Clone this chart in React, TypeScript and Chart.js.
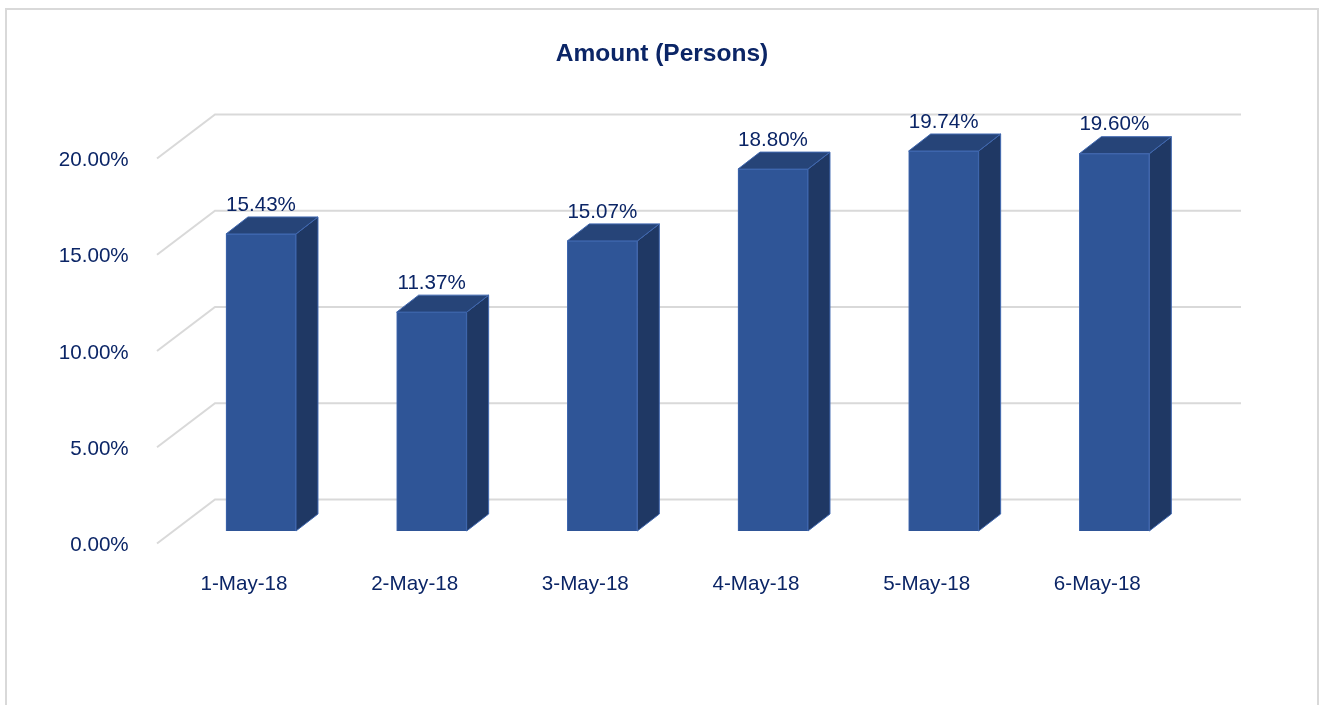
import React, { useEffect, useRef } from "react";
import { Chart, registerables } from "chart.js";

Chart.register(...registerables);

const categories = ["1-May-18", "2-May-18", "3-May-18", "4-May-18", "5-May-18", "6-May-18"];
const amounts = [15.43, 11.37, 15.07, 18.8, 19.74, 19.6];
const yTicks = [0, 5, 10, 15, 20];
const chartTitle = "Amount (Persons)";

const TEXT = "#0B2566";
const EDGE = "#4068B0";
const FONT = "'Liberation Sans', Arial, sans-serif";
const DX = 22;
const DY = 17;

const threeD = {
  id: "threeD",
  beforeDraw(chart: any) {
    const { ctx, width } = chart;
    ctx.save();
    ctx.fillStyle = "#ffffff";
    ctx.fillRect(0, 0, width, chart.height);
    ctx.strokeStyle = "#D9D9D9";
    ctx.lineWidth = 2;
    ctx.beginPath();
    ctx.moveTo(6, chart.height);
    ctx.lineTo(6, 9);
    ctx.lineTo(width - 1, 9);
    ctx.lineTo(width - 1, chart.height);
    ctx.stroke();
    ctx.restore();
  },
  beforeDatasetsDraw(chart: any) {
    const { ctx } = chart;
    const y = chart.scales.y;
    ctx.save();
    ctx.strokeStyle = "#D9D9D9";
    ctx.lineWidth = 2;
    for (const t of yTicks) {
      const p = y.getPixelForValue(t);
      ctx.beginPath();
      ctx.moveTo(157, p + 12.5);
      ctx.lineTo(215, p - 31.5);
      ctx.lineTo(1241, p - 31.5);
      ctx.stroke();
    }
    ctx.restore();
  },
  afterDatasetsDraw(chart: any) {
    const { ctx } = chart;
    const meta = chart.getDatasetMeta(0);
    ctx.save();
    meta.data.forEach((bar: any, i: number) => {
      const right = bar.x + bar.width / 2;
      const left = bar.x - bar.width / 2;
      const top = bar.y;
      const base = bar.base;
      ctx.lineWidth = 1;
      ctx.strokeStyle = EDGE;
      ctx.fillStyle = "#1F3864";
      ctx.beginPath();
      ctx.moveTo(right, top);
      ctx.lineTo(right + DX, top - DY);
      ctx.lineTo(right + DX, base - DY);
      ctx.lineTo(right, base);
      ctx.closePath();
      ctx.fill();
      ctx.stroke();
      ctx.fillStyle = "#264478";
      ctx.beginPath();
      ctx.moveTo(left, top);
      ctx.lineTo(left + DX, top - DY);
      ctx.lineTo(right + DX, top - DY);
      ctx.lineTo(right, top);
      ctx.closePath();
      ctx.fill();
      ctx.stroke();
      ctx.fillStyle = TEXT;
      ctx.font = `20.6px ${FONT}`;
      ctx.textAlign = "center";
      ctx.textBaseline = "middle";
      ctx.fillText(amounts[i].toFixed(2) + "%", bar.x, top - 29);
    });
    ctx.restore();
  },
};

export default function App() {
  const ref = useRef<HTMLCanvasElement | null>(null);
  useEffect(() => {
    const chart = new Chart(ref.current as HTMLCanvasElement, {
      type: "bar",
      data: {
        labels: categories,
        datasets: [
          {
            data: amounts,
            backgroundColor: "#2F5597",
            borderColor: EDGE,
            borderWidth: 1,
            barThickness: 70,
          },
        ],
      },
      options: {
        responsive: false,
        animation: false,
        events: [],
        layout: { padding: { left: 5, right: 0, top: 0, bottom: 0 } },
        plugins: {
          legend: { display: false },
          tooltip: { enabled: false },
          title: {
            display: true,
            text: chartTitle,
            color: TEXT,
            font: { family: FONT, size: 24.5, weight: "bold", lineHeight: 1.2 },
            padding: { top: 40, bottom: 76.6 },
          },
        },
        scales: {
          x: {
            type: "category",
            grid: { display: false, drawTicks: false },
            border: { display: false },
            afterFit: (s: any) => {
              s.height = 174;
            },
            ticks: {
              color: TEXT,
              font: { family: FONT, size: 20.6 },
              padding: 41,
              labelOffset: -17,
              maxRotation: 0,
              autoSkip: false,
            },
          },
          y: {
            type: "linear",
            min: 0,
            max: 20,
            grid: { display: false, drawTicks: false },
            border: { display: false },
            afterFit: (s: any) => {
              s.width = 170.65;
            },
            afterBuildTicks: (s: any) => {
              s.ticks = yTicks.map((value) => ({ value }));
            },
            ticks: {
              color: TEXT,
              font: { family: FONT, size: 20.6 },
              padding: 47,
              labelOffset: 14.5,
              callback: (v: any) => Number(v).toFixed(2) + "%",
            },
          },
          rightSpacer: {
            type: "linear",
            position: "right",
            grid: { display: false, drawTicks: false },
            border: { display: false },
            ticks: { display: false },
            afterFit: (s: any) => {
              s.width = 119.35;
            },
          },
        },
      },
      plugins: [threeD],
    } as any);
    return () => chart.destroy();
  }, []);
  return (
    <div style={{ position: "absolute", left: 0, top: 0, width: 1319, height: 705 }}>
      <canvas ref={ref} width={1319} height={705} style={{ display: "block" }} />
    </div>
  );
}
